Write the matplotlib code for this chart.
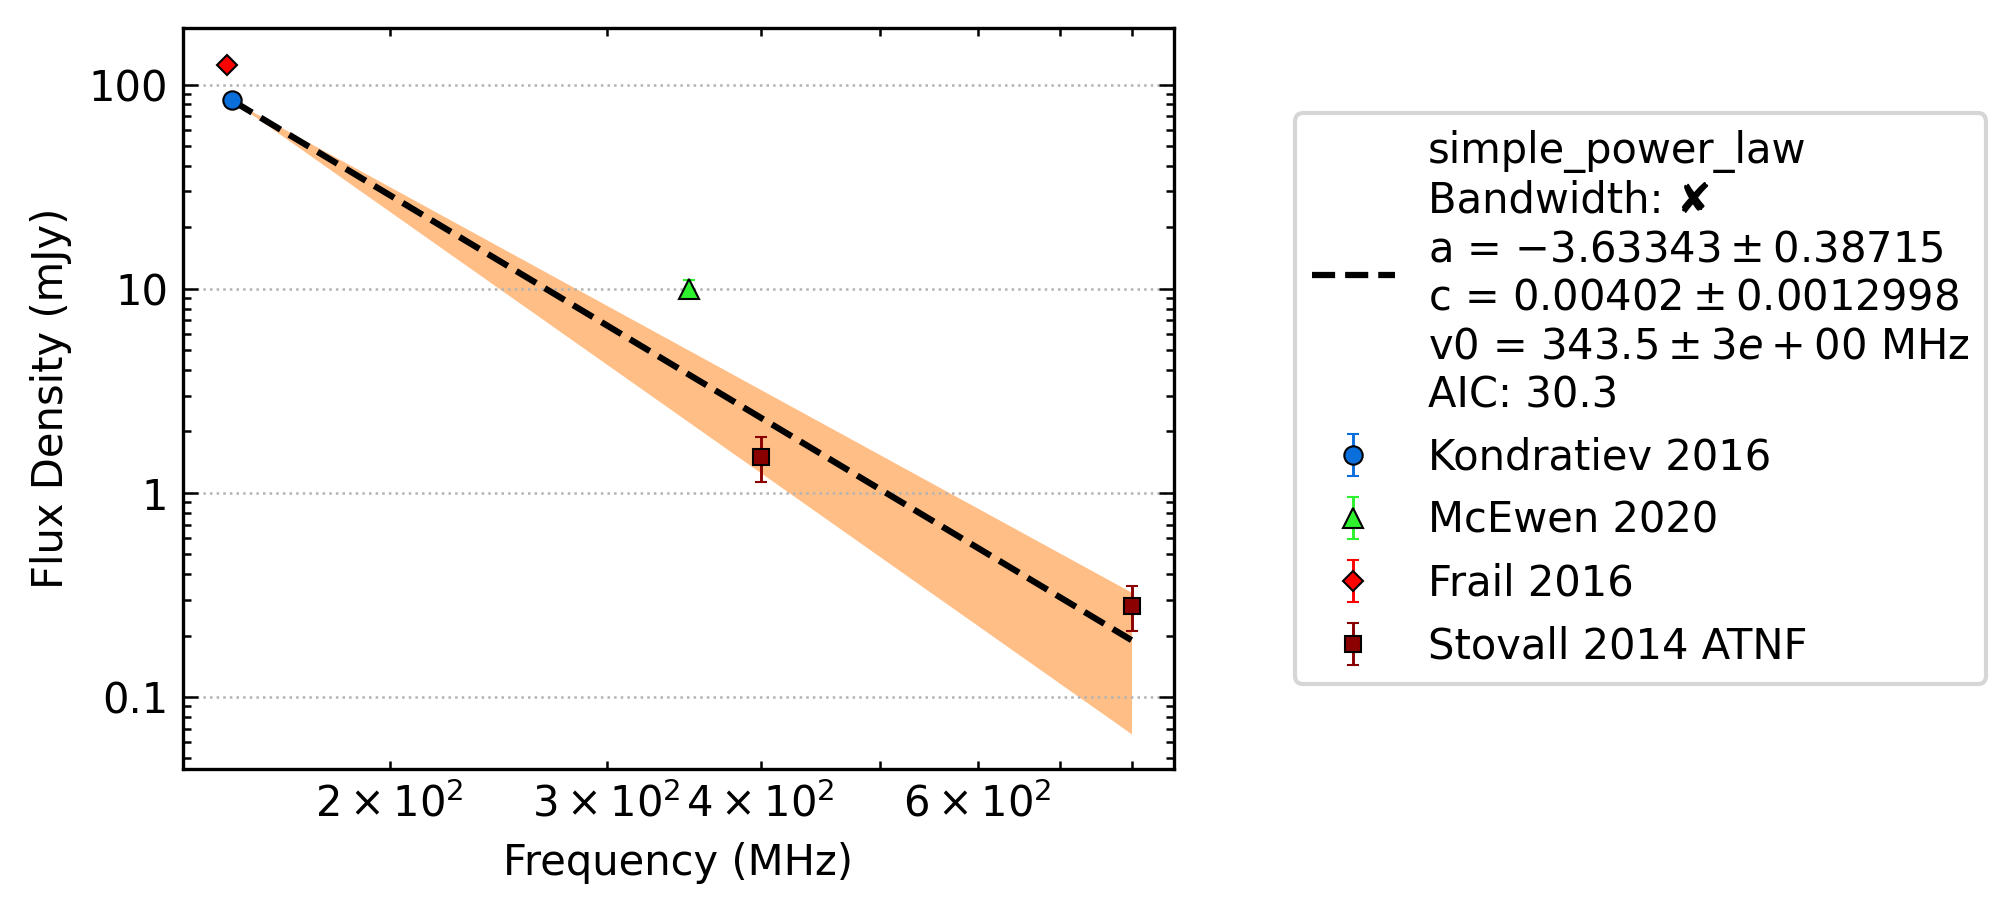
import matplotlib
matplotlib.use("Agg")
import matplotlib.pyplot as plt
from matplotlib import ticker

# measured data (MHz, mJy)
kond_freq = [149]
kond_flux = [84]
kond_err = [2]

mcewen_freq = [350]
mcewen_flux = [10]
mcewen_err = [1.0]

frail_freq = [147.5]
frail_flux = [125]
frail_err = [3]

stovall_freq = [400, 800]
stovall_flux = [1.5, 0.28]
stovall_err = [0.375, 0.07]

# fitted model and its uncertainty band
fit_freq = [149, 800]
fit_flux = [83.5, 0.19]
band_low = [83.5, 0.066]
band_high = [83.5, 0.326]

fit_label = ("simple_power_law\nBandwidth: \u2718\n"
             "a = $-3.63343 \\pm 0.38715$\n"
             "c = $0.00402 \\pm 0.0012998$\n"
             "v0 = $343.5 \\pm 3e+00$ MHz\n"
             "AIC: 30.3")

plt.rcParams['font.size'] = 10
plt.rcParams['axes.linewidth'] = 0.8

fig = plt.figure(figsize=(6.72, 3.047), dpi=300)
ax = fig.add_axes([0.0906, 0.1586, 0.4917, 0.8104])

ax.fill_between(fit_freq, band_low, band_high, color='C1', alpha=0.5, lw=0, zorder=1)
ax.plot(fit_freq, fit_flux, 'k--', lw=1.5, label=fit_label, zorder=2)

eb = dict(ls='none', mec='black', mew=0.5, elinewidth=0.7, capsize=1.5, capthick=0.7, zorder=3)
ax.errorbar(kond_freq, kond_flux, yerr=kond_err, fmt='o', color='#0a6fdb', ms=4.4,
            label='Kondratiev 2016', **eb)
ax.errorbar(mcewen_freq, mcewen_flux, yerr=mcewen_err, fmt='^', color='#2ef22e', ms=4.9,
            label='McEwen 2020', **eb)
ax.errorbar(frail_freq, frail_flux, yerr=frail_err, fmt='D', color='#ff0000', ms=3.5,
            label='Frail 2016', **eb)
ax.errorbar(stovall_freq, stovall_flux, yerr=stovall_err, fmt='s', color='#8b0000', ms=4.0,
            label='Stovall 2014 ATNF', **eb)

ax.set_xscale('log')
ax.set_yscale('log')
ax.set_xlim(135.8, 866)
ax.set_ylim(0.0444, 189)
ax.yaxis.set_major_formatter(ticker.FuncFormatter(lambda v, p: f'{v:g}'))

ax.tick_params(which='both', direction='in', top=True, right=True, width=0.6)
ax.tick_params(which='major', length=3.5)
ax.tick_params(which='minor', length=2)
ax.yaxis.grid(True, which='major', ls=':', lw=0.6, color='0.7')

ax.set_xlabel('Frequency (MHz)')
ax.set_ylabel('Flux Density (mJy)')

ax.legend(loc='center left', bbox_to_anchor=(1.122, 0.5), borderaxespad=0)

fig.savefig('out.png', dpi=300)
